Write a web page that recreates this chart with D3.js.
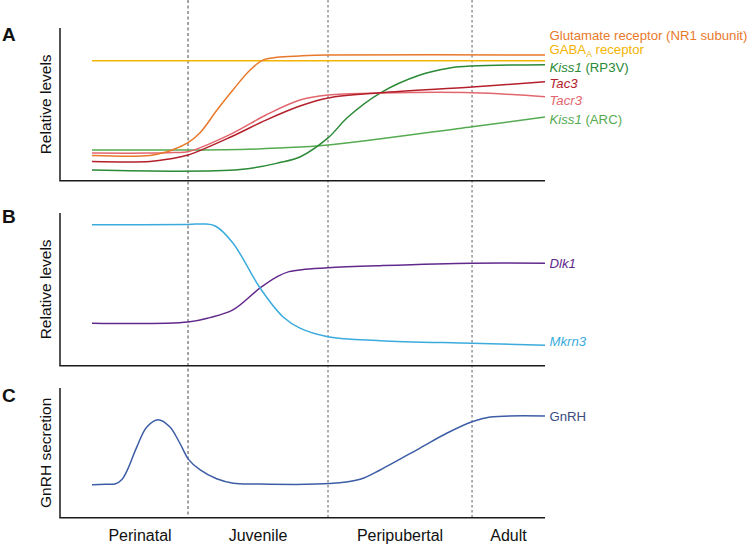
<!DOCTYPE html>
<html>
<head>
<meta charset="utf-8">
<script src="https://cdn.jsdelivr.net/npm/d3@7/dist/d3.min.js"></script>
<style>
  html, body { margin: 0; padding: 0; background: #fff; }
  svg { display: block; font-family: "Liberation Sans", Arial, sans-serif; }
</style>
</head>
<body>
<svg id="chart" width="752" height="545"></svg>
<script>
// ---------------- DATA ----------------
const stages = ["Perinatal", "Juvenile", "Peripubertal", "Adult"];
const stageBounds = [0, 21.2, 52.1, 83.9, 100];

// Panel A (relative levels, 0-100)
const glutamate = [[0,16.5],[12.8,16.5],[16.6,19.0],[18.8,21.4],[21.2,24.9],[23.8,31.2],[27.6,46.3],[31.1,59.4],[34.9,72.5],[37.7,79.0],[40.8,80.8],[45.9,81.7],[52.1,82.3],[100,82.3]];
const gabaA     = [[0,78.6],[100,78.6]];
const kiss1RP3V = [[0,7.0],[32.7,7.3],[41.5,11.9],[46,15.7],[52.1,28.0],[56.5,41.7],[63.6,57.4],[72.4,69.2],[79,73.8],[83.9,75.1],[100,76.0]];
const tac3      = [[0,12.6],[12.8,12.6],[17.1,14.2],[21.2,16.8],[31.1,29.3],[38.4,39.7],[45.9,48.9],[52.1,54.2],[63.6,57.6],[83.9,61.4],[100,64.8]];
const tacr3     = [[0,18.1],[12.8,18.1],[18,18.5],[21.2,19.0],[31.1,31.2],[38.4,43.0],[45.9,52.8],[52.1,56.1],[63.6,57.4],[83.9,57.6],[100,55.0]];
const kiss1ARC  = [[0,20.1],[32.7,20.4],[41.5,21.4],[52.1,23.4],[83.9,35.4],[100,41.7]];

// Panel B
const mkrn3 = [[0,92.3],[21.2,92.5],[24.7,92.8],[27.2,91.5],[31.1,80.4],[37.1,50.9],[42.2,31.9],[45.9,24.6],[52.1,19.0],[63.6,16.4],[83.9,14.7],[100,13.4]];
const dlk1  = [[0,27.8],[21.2,28.6],[26,31.5],[31.1,36.5],[37.1,50.9],[41,58.5],[43.5,61.6],[47,63.1],[52.1,64.2],[63.6,65.5],[83.9,67.1],[100,67.1]];

// Panel C
const gnrh = [[0,25.4],[2.9,25.8],[5.2,26.2],[6.6,29.5],[7.9,37.5],[9.9,54.6],[12.1,70.0],[14.6,75.6],[17.2,70.0],[19.4,57.4],[21.3,45.0],[23.8,37.0],[27.5,30.0],[31.2,26.6],[36,26.0],[52.5,26.3],[59.2,29.6],[63.6,36.8],[72.4,53.7],[78.4,65.3],[83.9,74.0],[87.9,77.6],[100,78.4]];

// ---------------- LAYOUT ----------------
const svg = d3.select("#chart");
const x = d3.scaleLinear().domain([0, 100]).range([92, 545]);
const axisLeftX = 60, axisRightX = 545;

const panels = [
  { letter: "A", top: 28,  bottom: 180.7, title: "Relative levels", letterY: 41 },
  { letter: "B", top: 213, bottom: 365.7, title: "Relative levels", letterY: 223 },
  { letter: "C", top: 388, bottom: 517.7, title: "GnRH secretion", letterY: 402 }
];
panels.forEach(p => { p.y = d3.scaleLinear().domain([0, 100]).range([p.bottom, p.top]); });

const line = yScale => d3.line().x(d => x(d[0])).y(d => yScale(d[1])).curve(d3.curveCatmullRom.alpha(0.5));

// Dashed stage boundaries
const bounds = stageBounds.slice(1, -1);
svg.append("g").selectAll("line").data(bounds).join("line")
  .attr("x1", d => x(d)).attr("x2", d => x(d))
  .attr("y1", 0).attr("y2", panels[2].bottom)
  .attr("stroke", (d, i) => i === 0 ? "#333" : "#9a9a9a")
  .attr("stroke-width", (d, i) => i === 0 ? 0.9 : 1.6)
  .attr("stroke-dasharray", (d, i) => i === 0 ? "3,2.5" : "2.5,2.5");

// Axes (left + bottom lines) for each panel
panels.forEach(p => {
  const g = svg.append("g");
  g.append("path")
    .attr("d", `M${axisLeftX},${p.top}V${p.bottom}H${axisRightX}`)
    .attr("fill", "none").attr("stroke", "#1a1a1a").attr("stroke-width", 1.5);
  g.append("text").text(p.letter)
    .attr("x", 2).attr("y", p.letterY)
    .attr("font-weight", "bold").attr("font-size", 19).attr("fill", "#111");
  g.append("text").text(p.title)
    .attr("transform", `translate(50.5,${(p.top + p.bottom) / 2}) rotate(-90)`)
    .attr("text-anchor", "middle").attr("font-size", 15.5).attr("fill", "#111");
});

// Series
const series = [
  { data: gabaA,     panel: 0, color: "#F4B400" },
  { data: kiss1ARC,  panel: 0, color: "#56AB52" },
  { data: kiss1RP3V, panel: 0, color: "#2A8A36" },
  { data: tacr3,     panel: 0, color: "#E2666E" },
  { data: tac3,      panel: 0, color: "#B3202B" },
  { data: glutamate, panel: 0, color: "#E8792B" },
  { data: dlk1,      panel: 1, color: "#62298C" },
  { data: mkrn3,     panel: 1, color: "#3BABDD" },
  { data: gnrh,      panel: 2, color: "#3D5DA6" }
];
svg.append("g").selectAll("path").data(series).join("path")
  .attr("d", s => line(panels[s.panel].y)(s.data))
  .attr("fill", "none").attr("stroke", s => s.color).attr("stroke-width", 1.5);

// Labels (position in panel value units)
const labels = [
  { panel: 0, level: 95.4, color: "#E8792B", parts: [["Glutamate receptor (NR1 subunit)", "normal"]] },
  { panel: 0, level: 85.8, color: "#F4B400", parts: [["GABA", "normal"], ["A", "sub"], [" receptor", "normal"]] },
  { panel: 0, level: 74.6, color: "#2A8A36", parts: [["Kiss1", "italic"], [" (RP3V)", "normal"]] },
  { panel: 0, level: 64.0, color: "#B3202B", parts: [["Tac3", "italic"]] },
  { panel: 0, level: 52.8, color: "#E2666E", parts: [["Tacr3", "italic"]] },
  { panel: 0, level: 40.4, color: "#56AB52", parts: [["Kiss1", "italic"], [" (ARC)", "normal"]] },
  { panel: 1, level: 67.3, color: "#62298C", parts: [["Dlk1", "italic"]] },
  { panel: 1, level: 15.7, color: "#3BABDD", parts: [["Mkrn3", "italic"]] },
  { panel: 2, level: 78.4, color: "#3B4B80", parts: [["GnRH", "normal"]] }
];
labels.forEach(l => {
  const t = svg.append("text")
    .attr("x", 549.5).attr("y", panels[l.panel].y(l.level)).attr("dy", "0.36em")
    .attr("font-size", 13.2).attr("fill", l.color);
  l.parts.forEach(([txt, style]) => {
    const ts = t.append("tspan").text(txt);
    if (style === "italic") ts.attr("font-style", "italic");
    if (style === "sub") ts.attr("font-size", 8.5).attr("dy", 2.5);
    if (style === "normal" && txt.startsWith(" receptor")) ts.attr("dy", -2.5);
  });
});

// Stage labels along the bottom
svg.append("g").selectAll("text").data(stages).join("text")
  .text(d => d)
  .attr("x", (d, i) => x((stageBounds[i] + stageBounds[i + 1]) / 2))
  .attr("y", 541)
  .attr("text-anchor", "middle").attr("font-size", 16).attr("fill", "#111");
</script>
</body>
</html>
